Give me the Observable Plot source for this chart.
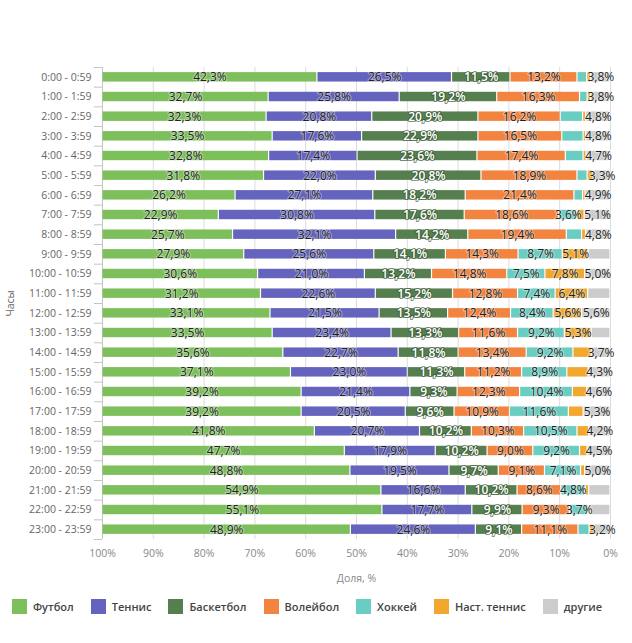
<!DOCTYPE html>
<html>
<head>
<meta charset="utf-8">
<script src="https://cdn.jsdelivr.net/npm/d3@7"></script>
<script src="https://cdn.jsdelivr.net/npm/@observablehq/plot@0.6"></script>
<style>
  body { margin: 0; background: #fff; font-family: "Open Sans", sans-serif; }
  #wrap { position: relative; width: 632px; height: 643px; }
  #legend { position: absolute; left: 12px; top: 599px; display: flex; align-items: center; gap: 17px; white-space: nowrap;
            font-family: "Open Sans", sans-serif; font-size: 11px; font-weight: 600; color: #444; }
  #legend .item { display: flex; align-items: center; gap: 6px; }
  #legend .sw { width: 15px; height: 15px; display: inline-block; }
</style>
</head>
<body>
<div id="wrap"><div id="chart"></div><div id="legend"></div></div>
<script>
const hours = ["0:00 - 0:59","1:00 - 1:59","2:00 - 2:59","3:00 - 3:59","4:00 - 4:59","5:00 - 5:59",
  "6:00 - 6:59","7:00 - 7:59","8:00 - 8:59","9:00 - 9:59","10:00 - 10:59","11:00 - 11:59",
  "12:00 - 12:59","13:00 - 13:59","14:00 - 14:59","15:00 - 15:59","16:00 - 16:59","17:00 - 17:59",
  "18:00 - 18:59","19:00 - 19:59","20:00 - 20:59","21:00 - 21:59","22:00 - 22:59","23:00 - 23:59"];
const sports = ["Футбол","Теннис","Баскетбол","Волейбол","Хоккей","Наст. теннис","другие"];
const colors = ["#7cbf5b","#6463bd","#557f4e","#f2843f","#69cdc1","#f2a82e","#cccccc"];

const football   = [42.3,32.7,32.3,33.5,32.8,31.8,26.2,22.9,25.7,27.9,30.6,31.2,33.1,33.5,35.6,37.1,39.2,39.2,41.8,47.7,48.8,54.9,55.1,48.9];
const tennis     = [26.5,25.8,20.8,17.6,17.4,22.0,27.1,30.8,32.1,25.6,21.0,22.6,21.5,23.4,22.7,23.0,21.4,20.5,20.7,17.9,19.5,16.6,17.7,24.6];
const basketball = [11.5,19.2,20.9,22.9,23.6,20.8,18.2,17.6,14.2,14.1,13.2,15.2,13.5,13.3,11.8,11.3,9.3,9.6,10.2,10.2,9.7,10.2,9.9,9.1];
const volleyball = [13.2,16.3,16.2,16.5,17.4,18.9,21.4,18.6,19.4,14.3,14.8,12.8,12.4,11.6,13.4,11.2,12.3,10.9,10.3,9.0,9.1,8.6,9.3,11.1];
const hockey     = [1.9,1.5,4.4,4.2,3.5,2.0,1.7,3.6,3.0,8.7,7.5,7.4,8.4,9.2,9.2,8.9,10.4,11.6,10.5,9.2,7.1,4.8,3.7,2.2];
const tableTennis= [0.8,0.7,0.6,0.5,0.6,1.2,0.5,1.4,0.8,5.1,7.8,6.4,5.6,5.3,3.6,4.2,2.8,2.9,2.3,1.5,0.8,0.7,0.3,0.9];
const other      = [3.8,3.8,4.8,4.8,4.7,3.3,4.9,5.1,4.8,4.3,5.0,4.4,5.6,3.7,3.7,4.3,4.6,5.3,4.2,4.5,5.0,4.2,4.0,3.2];
// which segments carry a data label in the original (1 = shown), per hour, in sport order
const labelMask = ["1111001","1111001","1111001","1111001","1111001","1111001","1111001","1111101",
  "1111001","1111110","1111111","1111110","1111111","1111110","1111101","1111101","1111101","1111101",
  "1111101","1111101","1111101","1111100","1111100","1111001"];
const xTicks = [0,0.1,0.2,0.3,0.4,0.5,0.6,0.7,0.8,0.9,1];

const series = [football, tennis, basketball, volleyball, hockey, tableTennis, other];
const data = [];
hours.forEach((h, i) => sports.forEach((s, j) => data.push({
  hour: h, sport: s, value: series[j][i], show: labelMask[i][j] === "1"
})));

const fmt = v => v.toFixed(1).replace(".", ",") + "%";
const H = 590, plotTop = 67, plotBottom = 539;
const step = (plotBottom - plotTop) / hours.length;
const stackBase = {y: "hour", x: "value", z: "sport", offset: "normalize", order: sports.slice().reverse()};

const chart = Plot.plot({
  width: 632, height: H,
  marginTop: plotTop, marginBottom: H - plotBottom, marginLeft: 102, marginRight: 22,
  style: {fontFamily: "'Open Sans', sans-serif", fontSize: "10.5px", background: "white", overflow: "visible"},
  x: {domain: [1, 0]},
  y: {domain: hours, paddingInner: 0.52, paddingOuter: 0.26, round: false},
  color: {domain: sports, range: colors},
  marks: [
    Plot.ruleX(xTicks, {stroke: "#dcdcdc", strokeWidth: 1}),
    Plot.ruleX([1], {stroke: "#c4c4c4"}),
    Plot.ruleY(hours, {y: d => d, x1: 1.016, x2: 1, dy: -step / 2, stroke: "#c4c4c4"}),
    Plot.ruleY([hours[hours.length - 1]], {y: d => d, x1: 1.016, x2: 1, dy: step / 2, stroke: "#c4c4c4"}),
    Plot.barX(data, Plot.stackX({...stackBase, fill: "sport", insetLeft: 0.6, insetRight: 0.6})),
    Plot.text(data, Plot.stackX({...stackBase,
      text: d => (d.show && d.sport !== "Баскетбол") ? fmt(d.value) : "",
      fontSize: 12, fill: "#222", stroke: "white", strokeWidth: 2, strokeOpacity: 0.45})),
    Plot.text(data, Plot.stackX({...stackBase,
      text: d => (d.show && d.sport === "Баскетбол") ? fmt(d.value) : "",
      fontSize: 12, fontWeight: 600, fill: "white", stroke: "#2f4a2c", strokeWidth: 2, strokeOpacity: 0.6})),
    Plot.axisY({tickSize: 0, tickPadding: 11, color: "#666", fontSize: 10.5,
      label: "Часы", labelAnchor: "center", labelOffset: 96}),
    Plot.axisX({ticks: xTicks, tickFormat: d => Math.round(d * 100) + "%", tickSize: 0, tickPadding: 10,
      color: "#888", fontSize: 10.5, label: "Доля, %", labelAnchor: "center", labelOffset: 42, labelArrow: "none"})
  ]
});
document.getElementById("chart").appendChild(chart);

const legend = document.getElementById("legend");
sports.forEach((s, i) => {
  const it = document.createElement("div");
  it.className = "item";
  const sw = document.createElement("span");
  sw.className = "sw";
  sw.style.background = colors[i];
  const tx = document.createElement("span");
  tx.textContent = s;
  it.appendChild(sw); it.appendChild(tx);
  legend.appendChild(it);
});
</script>
</body>
</html>
